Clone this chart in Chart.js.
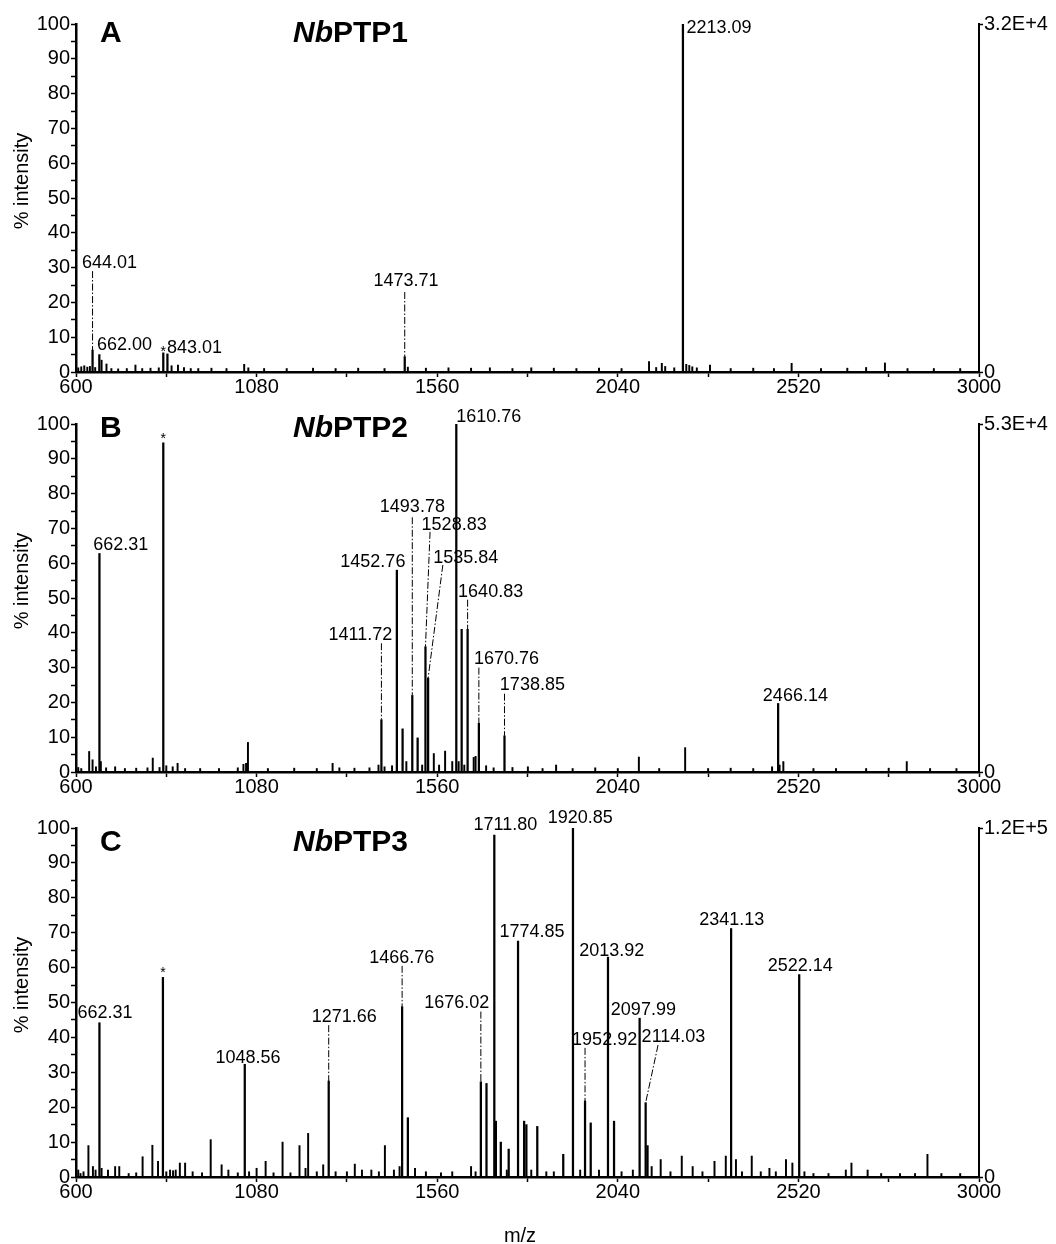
<!DOCTYPE html>
<html>
<head>
<meta charset="utf-8">
<script src="https://cdn.jsdelivr.net/npm/chart.js@4.4.1/dist/chart.umd.min.js"></script>
<style>
body{margin:0;background:#fff;width:1056px;height:1244px;position:relative;overflow:hidden;font-family:"Liberation Sans",Arial,sans-serif;color:#000;}
canvas{position:absolute;left:0;}
.tag{position:absolute;font-weight:bold;font-size:30px;line-height:30px;white-space:nowrap;}
#mz{position:absolute;left:470px;width:100px;text-align:center;top:1223px;font-size:20px;line-height:24px;}
</style>
</head>
<body>
<canvas id="chartA" width="1056" height="400" style="top:0"></canvas>
<canvas id="chartB" width="1056" height="400" style="top:400px"></canvas>
<canvas id="chartC" width="1056" height="440" style="top:804px"></canvas>

<div class="tag" style="left:100px;top:17px">A</div>
<div class="tag" style="left:293px;top:17px"><i>Nb</i>PTP1</div>
<div class="tag" style="left:100px;top:412px">B</div>
<div class="tag" style="left:293px;top:412px"><i>Nb</i>PTP2</div>
<div class="tag" style="left:100px;top:826px">C</div>
<div class="tag" style="left:293px;top:826px"><i>Nb</i>PTP3</div>
<div id="mz">m/z</div>

<script>
// X TICKS (m/z)
const xTicks = [600, 840, 1080, 1320, 1560, 1800, 2040, 2280, 2520, 2760, 3000];

// PANEL A - NbPTP1
const peaksA_mz  = [644.01, 662.00, 832, 843.01, 1473.71, 2213.09];
const peaksA_int = [6.3, 5.0, 5.5, 5.2, 4.4, 100];
const minorA_mz  = [606, 614, 622, 630, 637, 651, 668, 681, 694, 712, 735, 758, 776, 798, 820, 854, 871, 887, 905, 925, 960, 1000, 1047, 1058, 1100, 1160, 1230, 1290, 1350, 1420, 1482, 1530, 1590, 1650, 1700, 1760, 1810, 1870, 1930, 1990, 2050, 2123, 2142, 2157, 2166, 2190, 2222, 2230, 2238, 2250, 2285, 2340, 2400, 2455, 2502, 2580, 2650, 2700, 2750, 2810, 2880, 2950];
const minorA_int = [1.2, 1.5, 1.8, 1.4, 1.6, 1.3, 3.4, 2.3, 1.0, 0.9, 1.0, 2.0, 1.0, 1.1, 1.2, 1.8, 2.0, 1.3, 1.0, 1.0, 1.1, 1.0, 2.2, 1.2, 1.0, 1.0, 1.1, 1.0, 1.1, 1.0, 1.4, 1.1, 1.2, 1.1, 1.2, 1.0, 1.2, 1.1, 1.0, 1.1, 1.0, 3.0, 1.3, 2.5, 1.6, 1.2, 2.2, 1.9, 1.5, 1.2, 2.0, 1.0, 1.1, 1.0, 2.5, 1.0, 1.1, 1.3, 2.6, 1.0, 1.0, 1.0];

// PANEL B - NbPTP2
const peaksB_mz  = [662.31, 832, 1411.72, 1452.76, 1468, 1493.78, 1508, 1528.83, 1535.84, 1610.76, 1625, 1640.83, 1670.76, 1738.85, 2466.14];
const peaksB_int = [62.8, 94.6, 15, 58, 12.4, 22, 9.8, 36, 27, 100, 41, 41, 14, 10.4, 19.7];
const minorB_mz  = [606, 614, 635, 644, 653, 666, 680, 704, 730, 760, 790, 804, 822, 840, 857, 870, 890, 930, 980, 1030, 1045, 1052, 1057, 1110, 1180, 1240, 1282, 1300, 1340, 1380, 1404, 1420, 1440, 1478, 1520, 1551, 1565, 1581, 1600, 1617, 1632, 1657, 1662, 1690, 1710, 1760, 1801, 1840, 1876, 1920, 1980, 2040, 2096, 2150, 2219, 2280, 2340, 2400, 2450, 2470, 2480, 2560, 2620, 2700, 2760, 2808, 2870, 2940];
const minorB_int = [1.3, 1.0, 5.9, 3.5, 1.5, 3.0, 1.2, 1.5, 1.0, 1.1, 1.2, 4.0, 1.3, 1.8, 1.5, 2.5, 1.0, 1.0, 1.0, 1.2, 2.2, 2.5, 8.5, 1.0, 1.1, 1.0, 2.5, 1.2, 1.1, 1.2, 2.0, 1.5, 1.8, 3.0, 2.0, 5.3, 2.0, 6.0, 3.0, 3.0, 2.0, 4.2, 4.5, 1.8, 1.2, 1.3, 1.5, 1.0, 2.0, 1.0, 1.2, 1.0, 4.3, 1.0, 7.0, 1.0, 1.1, 1.0, 1.5, 2.0, 3.0, 1.0, 1.0, 1.0, 1.1, 3.0, 1.0, 1.0];

// PANEL C - NbPTP3
const peaksC_mz  = [662.31, 831, 1048.56, 1271.66, 1466.76, 1482, 1676.02, 1691, 1711.80, 1716, 1729, 1750, 1774.85, 1791, 1797, 1826, 1895, 1920.85, 1952.92, 1968, 2013.92, 2030, 2097.99, 2114.03, 2119, 2341.13, 2522.14];
const peaksC_int = [44.2, 57.2, 32.3, 27.5, 48.8, 17, 27.3, 26.8, 98, 16, 10, 8, 67.6, 16, 15, 14.5, 6.5, 100, 21.8, 15.5, 63, 16, 45.5, 21.3, 9, 71.2, 58];
const minorC_mz  = [606, 612, 620, 633, 645, 652, 668, 685, 704, 715, 740, 760, 777, 803, 818, 840, 850, 858, 865, 876, 890, 910, 935, 958, 987, 1005, 1030, 1060, 1080, 1104, 1125, 1149, 1170, 1194, 1210, 1217, 1240, 1257, 1290, 1320, 1341, 1360, 1385, 1405, 1421, 1445, 1460, 1501, 1530, 1570, 1600, 1650, 1662, 1745, 1810, 1850, 1870, 1940, 1990, 2050, 2080, 2130, 2154, 2180, 2210, 2239, 2265, 2297, 2327, 2354, 2370, 2396, 2420, 2443, 2460, 2487, 2504, 2536, 2560, 2600, 2646, 2661, 2704, 2740, 2790, 2830, 2863, 2900, 2950];
const minorC_int = [2.0, 1.0, 1.5, 9.0, 3.0, 2.0, 2.5, 2.0, 3.0, 3.0, 1.0, 1.2, 5.8, 9.1, 4.5, 1.5, 2.0, 1.8, 2.0, 4.0, 4.0, 1.5, 1.2, 10.7, 3.5, 2.0, 1.2, 1.5, 2.5, 4.5, 1.2, 10.0, 1.2, 9.0, 2.5, 12.5, 1.5, 3.5, 1.5, 1.5, 3.7, 2.0, 2.0, 1.5, 9.0, 2.0, 3.0, 2.5, 1.5, 1.2, 1.5, 3.0, 1.5, 2.0, 2.0, 1.5, 1.5, 2.0, 2.0, 1.5, 2.0, 3.0, 5.0, 1.5, 6.0, 3.0, 1.5, 4.5, 6.0, 5.0, 1.5, 6.0, 1.5, 2.5, 1.5, 5.0, 4.0, 1.5, 1.0, 1.0, 2.0, 4.0, 2.0, 1.0, 1.0, 1.0, 6.5, 1.0, 1.0];

// PEAK LABELS: text, label centre (m/z, %), optional leader [top m/z, top %, peak m/z, peak %]
const labelsA = [
  {t:"644.01", x:689, y:31.3, lead:[644.01, 29, 644.01, 6.3]},
  {t:"662.00", x:729, y:7.8},
  {t:"*", x:832, y:5.7, star:true},
  {t:"843.01", x:915, y:6.8},
  {t:"1473.71", x:1477, y:26, lead:[1473.71, 23, 1473.71, 4.4]},
  {t:"2213.09", x:2309, y:98.9}
];
const labelsB = [
  {t:"662.31", x:719, y:65.2},
  {t:"*", x:832, y:95.7, star:true},
  {t:"1411.72", x:1356, y:39.4, lead:[1411.72, 37, 1411.72, 15]},
  {t:"1452.76", x:1389, y:60.3},
  {t:"1493.78", x:1494, y:76.1, lead:[1493.78, 73.2, 1493.78, 22]},
  {t:"1528.83", x:1605, y:71, lead:[1541, 69, 1528.83, 36]},
  {t:"1535.84", x:1636, y:61.5, lead:[1575, 59.5, 1535.84, 27]},
  {t:"1610.76", x:1697, y:102},
  {t:"1640.83", x:1702, y:51.8, lead:[1640.83, 49.5, 1640.83, 41]},
  {t:"1670.76", x:1744, y:32.4, lead:[1670.76, 30, 1670.76, 14]},
  {t:"1738.85", x:1813, y:25, lead:[1738.85, 22.5, 1738.85, 10.4]},
  {t:"2466.14", x:2512, y:21.8}
];
const labelsC = [
  {t:"662.31", x:677, y:46.9},
  {t:"*", x:831, y:58.3, star:true},
  {t:"1048.56", x:1057, y:34.2},
  {t:"1271.66", x:1313, y:45.9, lead:[1271.66, 43.5, 1271.66, 27.5]},
  {t:"1466.76", x:1466, y:62.7, lead:[1466.76, 60.5, 1466.76, 48.8]},
  {t:"1676.02", x:1612, y:49.9, lead:[1676.02, 47.4, 1676.02, 27.3]},
  {t:"1711.80", x:1741, y:100.9},
  {t:"1774.85", x:1812, y:70.1},
  {t:"1920.85", x:1940, y:102.8},
  {t:"1952.92", x:2005, y:39.3, lead:[1952.92, 37, 1952.92, 21.8]},
  {t:"2013.92", x:2024, y:64.8},
  {t:"2097.99", x:2108, y:47.9},
  {t:"2114.03", x:2188, y:40.2, lead:[2147, 37.8, 2114.03, 21.3]},
  {t:"2341.13", x:2343, y:73.6},
  {t:"2522.14", x:2525, y:60.5}
];

const FONT = '"Liberation Sans", Arial, sans-serif';

function toPoints(xs, ys){
  return xs.map((x,i)=>({x:x, y:ys[i]}));
}

// text + leader lines drawn through the chart scales
function peakTextPlugin(items){
  return {
    id:"peakText",
    afterDatasetsDraw(chart){
      let ctx = chart.ctx;
      let xs = chart.scales.x, ys = chart.scales.y;
      ctx.save();
      ctx.strokeStyle = "#000";
      ctx.lineWidth = 1;
      ctx.setLineDash([7,2,1.5,2]);
      items.forEach(it=>{
        if(!it.lead) return;
        ctx.beginPath();
        ctx.moveTo(xs.getPixelForValue(it.lead[0]), ys.getPixelForValue(it.lead[1]));
        ctx.lineTo(xs.getPixelForValue(it.lead[2]), ys.getPixelForValue(it.lead[3]));
        ctx.stroke();
      });
      ctx.setLineDash([]);
      ctx.fillStyle = "#000";
      ctx.textAlign = "center";
      ctx.textBaseline = "middle";
      items.forEach(it=>{
        ctx.font = (it.star ? "14px " : "18px ") + FONT;
        ctx.fillText(it.t, xs.getPixelForValue(it.x), ys.getPixelForValue(it.y));
      });
      // y axis title
      ctx.font = "20px " + FONT;
      ctx.translate(22, chart.chartArea.top + 157);
      ctx.rotate(-Math.PI/2);
      ctx.fillText("% intensity", 0, 0);
      ctx.restore();
    }
  };
}

function makeChart(id, pkX, pkY, mnX, mnY, items, rightLabel, xHeight){
  return new Chart(document.getElementById(id), {
    type:"bar",
    data:{
      datasets:[
        {data:toPoints(pkX, pkY), backgroundColor:"#000", barThickness:1.6, grouped:false},
        {data:toPoints(mnX, mnY), backgroundColor:"#000", barThickness:1.3, grouped:false}
      ]
    },
    options:{
      responsive:false,
      animation:false,
      layout:{padding:{top:24, left:0, right:0, bottom:0}},
      plugins:{legend:{display:false}, tooltip:{enabled:false}},
      scales:{
        x:{
          type:"linear", min:600, max:3000, offset:false,
          afterBuildTicks(s){ s.ticks = xTicks.map(v=>({value:v})); },
          afterFit(s){ s.height = xHeight; },
          ticks:{autoSkip:false, maxRotation:0, padding:-2, color:"#000",
            font:{size:20, family:FONT},
            callback:v => ((v-600) % 480 === 0 ? String(v) : "")},
          grid:{offset:false, drawOnChartArea:false, tickLength:5, tickColor:"#000", tickWidth:1.5},
          border:{display:true, color:"#000", width:2.5}
        },
        y:{
          position:"left", min:0, max:100,
          afterFit(s){ s.width = 76; },
          ticks:{stepSize:5, autoSkip:false, padding:1, color:"#000",
            font:{size:20, family:FONT},
            callback:v => (v % 10 === 0 ? String(v) : "")},
          grid:{drawOnChartArea:false, tickLength:5, tickColor:"#000", tickWidth:1.5},
          border:{display:true, color:"#000", width:2.5}
        },
        y2:{
          position:"right", min:0, max:100,
          afterFit(s){ s.width = 77; },
          afterBuildTicks(s){ s.ticks = [{value:0},{value:100}]; },
          ticks:{padding:1, color:"#000", font:{size:20, family:FONT},
            callback:v => (v === 100 ? rightLabel : "0")},
          grid:{drawOnChartArea:false, tickLength:4, tickColor:"#000", tickWidth:1.5},
          border:{display:true, color:"#000", width:2}
        }
      }
    },
    plugins:[peakTextPlugin(items)]
  });
}

// INIT
makeChart("chartA", peaksA_mz, peaksA_int, minorA_mz, minorA_int, labelsA, "3.2E+4", 28);
makeChart("chartB", peaksB_mz, peaksB_int, minorB_mz, minorB_int, labelsB, "5.3E+4", 28);
makeChart("chartC", peaksC_mz, peaksC_int, minorC_mz, minorC_int, labelsC, "1.2E+5", 67);
</script>
</body>
</html>
